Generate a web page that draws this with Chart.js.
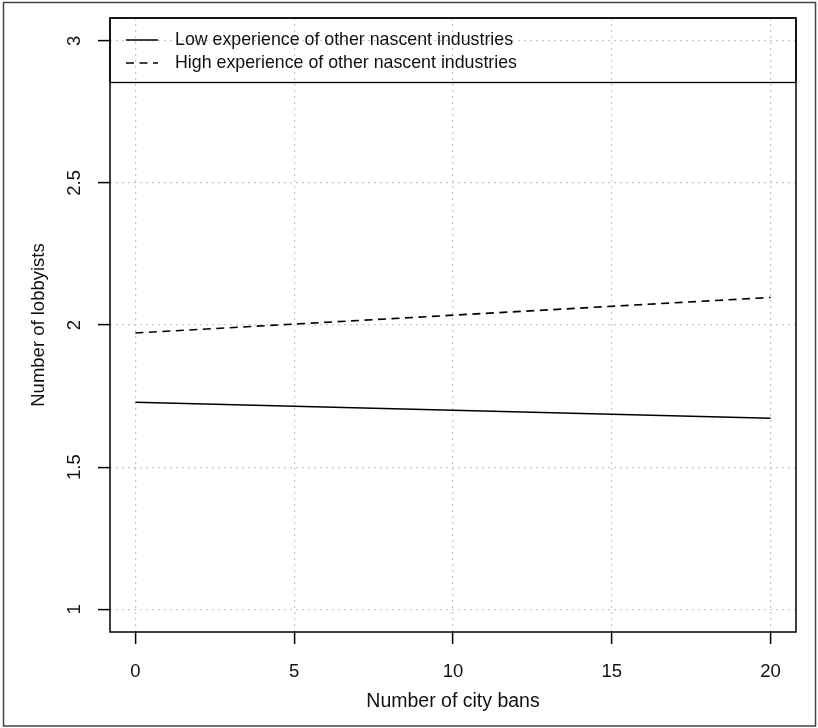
<!DOCTYPE html>
<html>
<head>
<meta charset="utf-8">
<script src="https://cdn.jsdelivr.net/npm/chart.js@4/dist/chart.umd.min.js"></script>
<style>
  html, body { margin: 0; padding: 0; background: #fff; }
  #wrap { width: 818px; height: 728px; position: relative; }
</style>
</head>
<body>
<div id="wrap"><canvas id="chart" width="818" height="728"></canvas></div>
<script>
// values
const cityBans = [0, 20];
const lowExperience = [1.728, 1.672];
const highExperience = [1.972, 2.097];
const xTicks = [0, 5, 10, 15, 20];
const yTicks = [1, 1.5, 2, 2.5, 3];
const seriesLabels = ["Low experience of other nascent industries", "High experience of other nascent industries"];
const xTitle = "Number of city bans";
const yTitle = "Number of lobbyists";

const FONT = "'Liberation Sans', Arial, Helvetica, sans-serif";
const FSIZE = 18.5;
const DASH = [8, 5.5];

const toPoints = (xs, ys) => xs.map((x, i) => ({ x, y: ys[i] }));

// outer figure frame + plot box + legend box
const frame = {
    id: "frame",
    beforeDraw(c) {
        const ctx = c.ctx;
        ctx.save();
        ctx.fillStyle = "#fff";
        ctx.fillRect(0, 0, c.width, c.height);
        ctx.strokeStyle = "#444";
        ctx.lineWidth = 1.5;
        ctx.strokeRect(3.5, 2.5, 812, 723.5);
        ctx.restore();
    },
    afterDraw(c) {
        const a = c.chartArea;
        const ctx = c.ctx;
        ctx.save();
        ctx.strokeStyle = "#000";
        ctx.lineWidth = 1.5;
        ctx.strokeRect(a.left, a.top, a.right - a.left, a.bottom - a.top);

        // legend
        const legH = 64.5;
        ctx.lineWidth = 1.3;
        ctx.strokeRect(a.left, a.top, a.right - a.left, legH);
        const rows = [a.top + 22, a.top + 45];
        ctx.font = "17.8px " + FONT;
        ctx.textBaseline = "middle";
        ctx.textAlign = "left";
        ctx.fillStyle = "#111";
        c.data.datasets.forEach((ds, i) => {
            ctx.beginPath();
            ctx.lineWidth = 1.5;
            ctx.setLineDash(ds.borderDash || []);
            ctx.moveTo(a.left + 16, rows[i]);
            ctx.lineTo(a.left + 48, rows[i]);
            ctx.stroke();
            ctx.setLineDash([]);
            ctx.fillText(ds.label, a.left + 65, rows[i]);
        });
        ctx.restore();
    }
};

const ctx = document.getElementById("chart").getContext("2d");
const chart = new Chart(ctx, {
    type: "line",
    data: {
        datasets: [
            {
                label: seriesLabels[0],
                data: toPoints(cityBans, lowExperience),
                borderColor: "#000",
                borderWidth: 1.6,
                pointRadius: 0,
                tension: 0
            },
            {
                label: seriesLabels[1],
                data: toPoints(cityBans, highExperience),
                borderColor: "#000",
                borderWidth: 1.6,
                borderDash: DASH,
                pointRadius: 0,
                tension: 0
            }
        ]
    },
    options: {
        responsive: false,
        animation: false,
        layout: { padding: { top: 18, right: 22, left: 0, bottom: 0 } },
        plugins: { legend: { display: false }, tooltip: { enabled: false } },
        scales: {
            x: {
                type: "linear",
                min: -0.8,
                max: 20.8,
                afterBuildTicks: s => { s.ticks = xTicks.map(v => ({ value: v })); },
                afterFit: s => { s.height = 96; s.paddingLeft = 0; s.paddingRight = 0; },
                border: { display: false, dash: [2, 4] },
                grid: {
                    color: "#c8c8c8",
                    lineWidth: 1.2,
                    tickLength: 12,
                    tickColor: "#000",
                    tickWidth: 1.5,
                    tickBorderDash: []
                },
                ticks: {
                    color: "#111",
                    padding: 17,
                    maxRotation: 0,
                    font: { family: FONT, size: FSIZE },
                    callback: v => String(v)
                },
                title: {
                    display: true,
                    text: xTitle,
                    color: "#111",
                    padding: { top: 0, bottom: 15 },
                    font: { family: FONT, size: 19.5 }
                }
            },
            y: {
                type: "linear",
                min: 0.92,
                max: 3.08,
                afterBuildTicks: s => { s.ticks = yTicks.map(v => ({ value: v })); },
                afterFit: s => { s.width = 110; s.paddingTop = 0; s.paddingBottom = 0; },
                border: { display: false, dash: [2, 4] },
                grid: {
                    color: "#c8c8c8",
                    lineWidth: 1.2,
                    tickLength: 12,
                    tickColor: "#000",
                    tickWidth: 1.5,
                    tickBorderDash: []
                },
                ticks: {
                    color: "#111",
                    padding: 10,
                    minRotation: 90,
                    maxRotation: 90,
                    crossAlign: "center",
                    font: { family: FONT, size: FSIZE },
                    callback: v => String(v)
                },
                title: {
                    display: true,
                    text: yTitle,
                    color: "#111",
                    padding: { top: 28, bottom: 0 },
                    font: { family: FONT, size: FSIZE }
                }
            }
        }
    },
    plugins: [frame]
});
</script>
</body>
</html>
